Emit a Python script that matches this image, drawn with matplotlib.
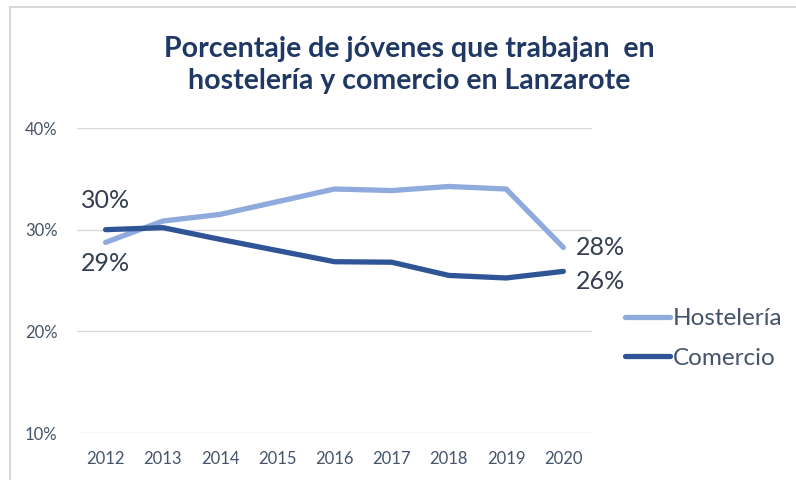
import matplotlib
matplotlib.use('Agg')
import matplotlib.pyplot as plt
from matplotlib.patches import Rectangle

plt.rcParams['font.family'] = ['Lato', 'DejaVu Sans']

years = ['2012', '2013', '2014', '2015', '2016', '2017', '2018', '2019', '2020']
hosteleria = [28.75, 30.85, 31.5, 32.75, 34.0, 33.85, 34.25, 34.0, 28.25]
comercio = [30.0, 30.2, 29.05, 27.95, 26.85, 26.8, 25.5, 25.25, 25.9]

light = '#8FAADC'
dark = '#2F5597'
txt = '#44546A'

fig = plt.figure(figsize=(7.96, 4.8), dpi=100)
ax = fig.add_axes([0.0967, 0.0979, 0.647, 0.6354])

x = range(len(years))
ax.plot(x, hosteleria, color=light, lw=3.8, solid_capstyle='round', label='Hostelería')
ax.plot(x, comercio, color=dark, lw=3.8, solid_capstyle='round', label='Comercio')

ax.set_xlim(-0.5, len(years) - 0.5)
ax.set_ylim(10, 40)
ax.set_yticks([10, 20, 30, 40])
ax.set_yticklabels(['10%', '20%', '30%', '40%'])
ax.set_xticks(list(x))
ax.set_xticklabels(years)
ax.grid(axis='y', color='#D9D9D9', lw=1)
ax.set_axisbelow(True)
for s in ax.spines.values():
    s.set_visible(False)
ax.tick_params(length=0, labelsize=12, colors=txt)
ax.tick_params(axis='x', pad=13)
ax.tick_params(axis='y', pad=14)

# data labels
lab_color = '#333F50'
ax.annotate(f'{comercio[0]:.0f}%', (0, comercio[0]), xytext=(0, 13), textcoords='offset points',
            ha='center', va='bottom', fontsize=18, color=lab_color)
ax.annotate(f'{hosteleria[0]:.0f}%', (0, hosteleria[0]), xytext=(0, -7), textcoords='offset points',
            ha='center', va='top', fontsize=18, color=lab_color)
ax.annotate(f'{hosteleria[-1]:.0f}%', (8, hosteleria[-1]), xytext=(9, 0), textcoords='offset points',
            ha='left', va='center', fontsize=18, color=lab_color)
ax.annotate(f'{comercio[-1] - 0.4:.0f}%', (8, comercio[-1]), xytext=(9, -7), textcoords='offset points',
            ha='left', va='center', fontsize=18, color=lab_color)

leg = fig.legend(loc='center left', bbox_to_anchor=(0.758, 0.295), frameon=False,
                 fontsize=17.5, handlelength=1.85, handletextpad=0.1, labelspacing=0.75, labelcolor=txt)

fig.text(0.514, 0.865, 'Porcentaje de jóvenes que trabajan  en\nhostelería y comercio en Lanzarote',
         ha='center', va='center', fontsize=20.5, fontweight='bold', color='#1F3864', linespacing=1.3)

fig.patches.append(Rectangle((10 / 796, -0.1), 1.2, 1 - 7 / 480 + 0.1, transform=fig.transFigure,
                             fill=False, edgecolor='#D9D9D9', lw=1.5))

fig.savefig('out.png', dpi=100)
